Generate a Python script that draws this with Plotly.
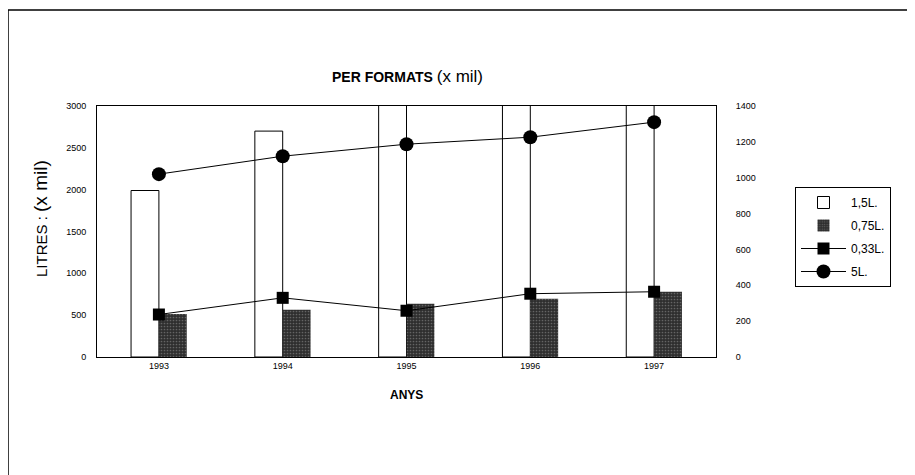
import plotly.graph_objects as go

years = ["1993", "1994", "1995", "1996", "1997"]
litres_15 = [1990, 2700, 3400, 3600, 3800]
litres_075 = [515, 565, 635, 695, 780]
litres_033 = [237, 330, 258, 353, 364]
litres_5 = [1020, 1120, 1187, 1226, 1310]
left_ticks = [0, 500, 1000, 1500, 2000, 2500, 3000]
right_ticks = [0, 200, 400, 600, 800, 1000, 1200, 1400]

OFF = 8  # page body margin
W, H = 915 - OFF, 475 - OFF
# plot area edges in screenshot pixels
L, R, T, B = 97, 716, 106, 357

def px(x):
    return (x - L) / (R - L)

def py(y):
    return (B - y) / (B - T)

fig = go.Figure()
fig.add_trace(go.Bar(
    x=years, y=litres_15, name="1,5L.", legendgroup="a",
    marker=dict(color="white", line=dict(color="black", width=1)),
    yaxis="y",
))
fig.add_trace(go.Bar(
    x=years, y=litres_075, name="0,75L.", legendgroup="b",
    marker=dict(color="#2e2e2e", line=dict(width=0),
                pattern=dict(shape=".", fgcolor="#9a9a9a", size=3, solidity=0.25)),
    yaxis="y",
))
fig.add_trace(go.Scatter(
    x=years, y=litres_033, name="0,33L.", mode="lines+markers", legendgroup="c",
    line=dict(color="black", width=1),
    marker=dict(symbol="square", size=12, color="black"),
    yaxis="y2",
))
fig.add_trace(go.Scatter(
    x=years, y=litres_5, name="5L.", mode="lines+markers", legendgroup="d",
    line=dict(color="black", width=1),
    marker=dict(symbol="circle", size=14, color="black"),
    yaxis="y2",
))

font_family = "Liberation Sans, Arial, sans-serif"
fig.update_layout(
    width=W, height=H,
    margin=dict(l=L - OFF, r=W - (R - OFF), t=T - OFF, b=H - (B - OFF), pad=0),
    paper_bgcolor="white", plot_bgcolor="white",
    font=dict(family=font_family, color="black", size=9),
    barmode="group", bargap=0.55, bargroupgap=0,
    showlegend=True,
    legend=dict(
        x=px(795), y=py(187), xanchor="left", yanchor="top",
        bordercolor="black", borderwidth=1, bgcolor="white",
        font=dict(size=12, family=font_family, color="black"),
        tracegroupgap=4, itemwidth=45,
    ),
    xaxis=dict(
        type="category", showgrid=False, zeroline=False,
        showline=True, linecolor="black", linewidth=1, mirror=True,
        ticks="", tickfont=dict(size=9),
    ),
    yaxis=dict(
        range=[0, 3000], tickvals=left_ticks, showgrid=False, zeroline=False,
        showline=True, linecolor="black", linewidth=1,
        ticks="", tickfont=dict(size=9), ticklabelstandoff=8,
    ),
    yaxis2=dict(
        range=[0, 1400], tickvals=right_ticks, overlaying="y", side="right",
        showgrid=False, zeroline=False,
        showline=True, linecolor="black", linewidth=1,
        ticks="", tickfont=dict(size=9), ticklabelstandoff=17,
    ),
    annotations=[
        dict(text="<b>PER FORMATS</b> <span style='font-size:17px'>(x mil)</span>",
             x=px(407), y=py(76), xref="paper", yref="paper", showarrow=False,
             xanchor="center", yanchor="middle",
             font=dict(size=14, family=font_family, color="black")),
        dict(text="LITRES : <span style='font-size:19px'>(x mil)</span>",
             x=px(40), y=py(219), xref="paper", yref="paper", showarrow=False,
             xanchor="center", yanchor="middle",
             textangle=-90, font=dict(size=15, family=font_family, color="black")),
        dict(text="<b>ANYS</b>",
             x=px(406), y=py(395), xref="paper", yref="paper", showarrow=False,
             xanchor="center", yanchor="middle",
             font=dict(size=12, family=font_family, color="black")),
    ],
    shapes=[
        dict(type="line", xref="paper", yref="paper",
             x0=px(7), x1=px(915), y0=py(10), y1=py(10),
             line=dict(color="black", width=1.5)),
        dict(type="line", xref="paper", yref="paper",
             x0=px(8), x1=px(8), y0=py(10), y1=py(475),
             line=dict(color="black", width=1.5)),
    ],
)

fig.write_html("out.html")
